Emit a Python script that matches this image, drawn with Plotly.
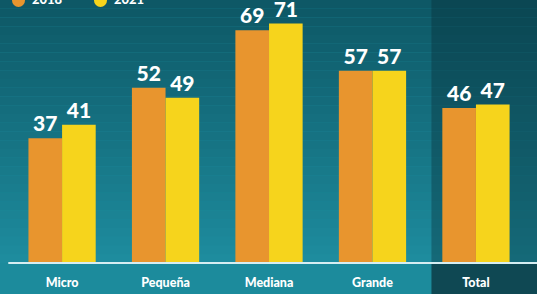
import plotly.graph_objects as go

categories = ["Micro", "Pequeña", "Mediana", "Grande", "Total"]
series_names = ["2018", "2021"]
values_2018 = [37, 52, 69, 57, 46]
values_2021 = [41, 49, 71, 57, 47]

ORANGE = "#E8952E"
YELLOW = "#F6D41C"

fig = go.Figure()
for name, vals, col in [(series_names[0], values_2018, ORANGE), (series_names[1], values_2021, YELLOW)]:
    fig.add_trace(go.Bar(
        x=categories, y=vals, name=name,
        marker=dict(color=col, line=dict(width=0)),
        text=[str(v) for v in vals], textposition="outside",
        textfont=dict(color="white", size=21, family="Lato", weight=900),
        cliponaxis=False, hoverinfo="skip",
    ))

# background gradient bands (top dark teal -> lighter teal)
shapes = []
n = 30
top = (14, 88, 102)
bot = (30, 140, 158)
for i in range(n):
    t = i / (n - 1)
    c = tuple(int(top[k] + (bot[k] - top[k]) * t) for k in range(3))
    y1 = 1 - i / n
    y0 = 1 - (i + 1) / n
    shapes.append(dict(type="rect", xref="paper", yref="paper", x0=0, x1=1,
                       y0=y0, y1=y1, fillcolor="rgb(%d,%d,%d)" % c,
                       line=dict(width=0), layer="below"))
# total panel darker
shapes.append(dict(type="rect", xref="x", yref="paper", x0=3.57, x1=4.7,
                   y0=0, y1=1, fillcolor="rgba(5,40,50,0.35)",
                   line=dict(width=0), layer="below"))
# bottom strip
shapes.append(dict(type="rect", xref="paper", yref="paper", x0=0, x1=1,
                   y0=-0.2, y1=0, fillcolor="#1C8B9C",
                   line=dict(width=0), layer="below"))
shapes.append(dict(type="rect", xref="x", yref="paper", x0=3.57, x1=4.7,
                   y0=-0.2, y1=0, fillcolor="#0F4853",
                   line=dict(width=0), layer="below"))
# baseline
shapes.append(dict(type="line", xref="x", yref="paper", x0=-0.52, x1=4.7,
                   y0=0, y1=0, line=dict(color="#D6EEF2", width=2)))

# legend drawn manually (partly cut off at the top, as in the reference)
annotations = []
for i, (name, col) in enumerate([(series_names[0], ORANGE), (series_names[1], YELLOW)]):
    x0 = 12 + i * 82
    shapes.append(dict(type="circle", xref="paper", yref="paper",
                       x0=x0 / 537, x1=(x0 + 13) / 537,
                       y0=(263 + 6) / 263, y1=(263 - 7) / 263,
                       fillcolor=col, line=dict(width=0)))
    annotations.append(dict(text=name, xref="paper", yref="paper",
                            x=(x0 + 18) / 537, y=(263 + 1) / 263,
                            xanchor="left", yanchor="middle", showarrow=False,
                            font=dict(color="white", size=13, family="Lato", weight=900)))

fig.update_layout(
    width=537, height=294,
    margin=dict(l=0, r=0, t=0, b=31, autoexpand=False),
    paper_bgcolor="#1C8B9C",
    plot_bgcolor="rgba(0,0,0,0)",
    barmode="group", bargap=0.35, bargroupgap=0,
    shapes=shapes, annotations=annotations,
    showlegend=False,
    xaxis=dict(range=[-0.6, 4.59], showgrid=False, zeroline=False,
               tickfont=dict(color="white", size=12.5, family="Lato", weight=900),
               ticks="", showline=False, automargin=False, ticklabelstandoff=10),
    yaxis=dict(range=[0, 78], visible=False, automargin=False),
    font=dict(family="Lato"),
)
fig.write_html("out.html", config={"displayModeBar": False, "staticPlot": True},
               post_script="document.body.style.margin='0';document.body.style.background='#1C8B9C';")
